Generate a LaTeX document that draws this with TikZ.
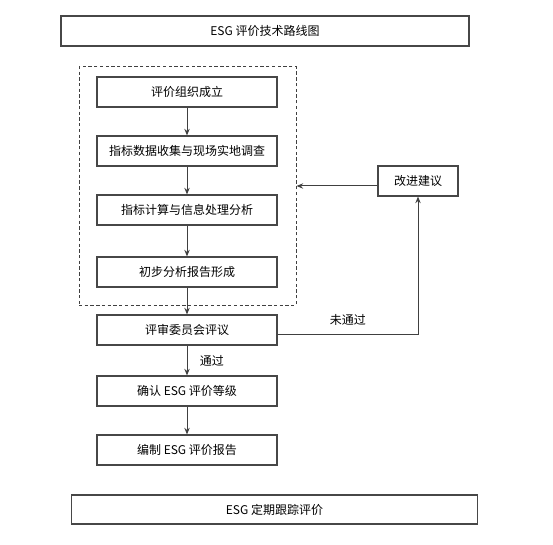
\documentclass[tikz,border=0pt]{standalone}
\usepackage{fontspec}
\setmainfont{Noto Sans CJK SC}
\usepackage{tikz}
\usetikzlibrary{positioning,calc,arrows.meta}

\begin{document}
\begin{tikzpicture}[x=0.75pt, y=-0.75pt,
    font=\fontsize{9}{11}\selectfont,
    box/.style={draw, rectangle, line width=0.8pt, draw=black!72, minimum width=135pt, minimum height=22.5pt, fill=white},
    wide/.style={box, minimum width=306pt},
    arr/.style={-{Stealth[length=5pt,width=4pt]}, line width=0.75pt, draw=black!75}]
    \useasboundingbox (0,0) rectangle (553,545);

    % Title
    \node [wide] (title) at (265, 31) {ESG 评价技术路线图};

    % Stage frame
    \node [draw, dash pattern=on 2.5pt off 1.8pt, line width=0.75pt, draw=black!75, minimum width=162.75pt, minimum height=178.5pt] (stage) at (187.5, 186) {};

    % Steps
    \node [box] (found) at (187, 92) {评价组织成立};
    \node [box] (collect) at (187, 151) {指标数据收集与现场实地调查};
    \node [box] (calc) at (187, 210) {指标计算与信息处理分析};
    \node [box] (draft) at (187, 272) {初步分析报告形成};
    \node [box] (review) at (187, 330) {评审委员会评议};
    \node [box] (grade) at (187, 391) {确认 ESG 评价等级};
    \node [box] (report) at (187, 450) {编制 ESG 评价报告};

    % Feedback
    \node [box, minimum width=60pt] (improve) at (418, 181) {改进建议};

    \node [wide, minimum width=305pt, minimum height=21.75pt] (track) at (274.5, 509.5) {ESG 定期跟踪评价};

    \draw [arr] (found) -- (collect);
    \draw [arr] (collect) -- (calc);
    \draw [arr] (calc) -- (draft);
    \draw [arr] (draft) -- (review);
    \draw [arr] (review) -- (grade) node [midway, right=6pt] {通过};
    \draw [arr] (grade) -- (report);

    \draw [arr] ([yshift=-3pt]review.east) -| (improve.south) node [pos=0.25, above=3pt] {未通过};
    \draw [arr] (stage.east -| improve.west) -- (stage.east);
\end{tikzpicture}
\end{document}
